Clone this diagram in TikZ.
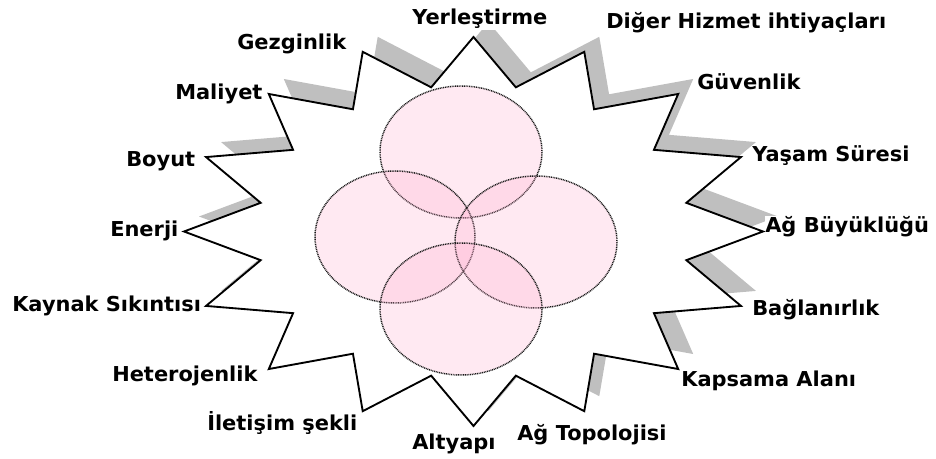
\documentclass[tikz,border=0pt]{standalone}
\usepackage{fontspec}
\setmainfont[FakeStretch=1.02]{DejaVu Sans}
\begin{document}
\begin{tikzpicture}[x=0.75pt,y=-0.75pt,
  lbl/.style={anchor=base west,inner xsep=0pt,inner ysep=1pt,fill=white,font=\fontsize{15.4}{17}\selectfont\bfseries},
  starline/.style={draw=black,line width=1.4pt,fill=white,line join=miter},
  shadowfill/.style={fill={rgb,255:red,191;green,191;blue,191}},
  blob/.style={draw=black!90,line width=1.1pt,dash pattern=on 0.7pt off 0.6pt,
    fill={rgb,255:red,255;green,170;blue,205},fill opacity=0.25,draw opacity=1}]
\useasboundingbox (0,0) rectangle (936,459);
% shadow
\path[shadowfill,shift={(15,-15)}] plot[samples at={0,1,...,31},variable=\i]
  ({473.5+ifthenelse(mod(\i,2)==0,289.5,217)*cos(90-11.25*\i)},
   {231.5-ifthenelse(mod(\i,2)==0,194.5,147)*sin(90-11.25*\i)}) -- cycle;
% star
\path[starline] plot[samples at={0,1,...,31},variable=\i]
  ({473.5+ifthenelse(mod(\i,2)==0,289.5,217)*cos(90-11.25*\i)},
   {231.5-ifthenelse(mod(\i,2)==0,194.5,147)*sin(90-11.25*\i)}) -- cycle;
% ellipses
\path[blob] (461,152) ellipse [x radius=81,y radius=66];
\path[blob] (395,237) ellipse [x radius=80,y radius=66];
\path[blob] (536,242) ellipse [x radius=81,y radius=66];
\path[blob] (461,309) ellipse [x radius=81,y radius=66];
% labels
\node[lbl] (yer) at (412,25) {Yerleştirme};
\node[lbl] (dig) at (606,29) {Diğer Hizmet ihtiyaçları};
\node[lbl] (guv) at (697,90) {Güvenlik};
\node[lbl] (yas) at (752,162) {Yaşam Süresi};
\node[lbl] (agb) at (765,233) {Ağ Büyüklüğü};
\node[lbl] (bag) at (752,316) {Bağlanırlık};
\node[lbl] (kap) at (681,387) {Kapsama Alanı};
\node[lbl] (agt) at (517,441) {Ağ Topolojisi};
\node[lbl] (alt) at (412,450) {Altyapı};
\node[lbl] (ile) at (207,431) {İletişim şekli};
\node[lbl] (het) at (112,382) {Heterojenlik};
\node[lbl] (kay) at (12,312) {Kaynak Sıkıntısı};
\node[lbl] (ene) at (110,237) {Enerji};
\node[lbl] (boy) at (126,167) {Boyut};
\node[lbl] (mal) at (175,100) {Maliyet};
\node[lbl] (gez) at (237,50) {Gezginlik};
\end{tikzpicture}
\end{document}
